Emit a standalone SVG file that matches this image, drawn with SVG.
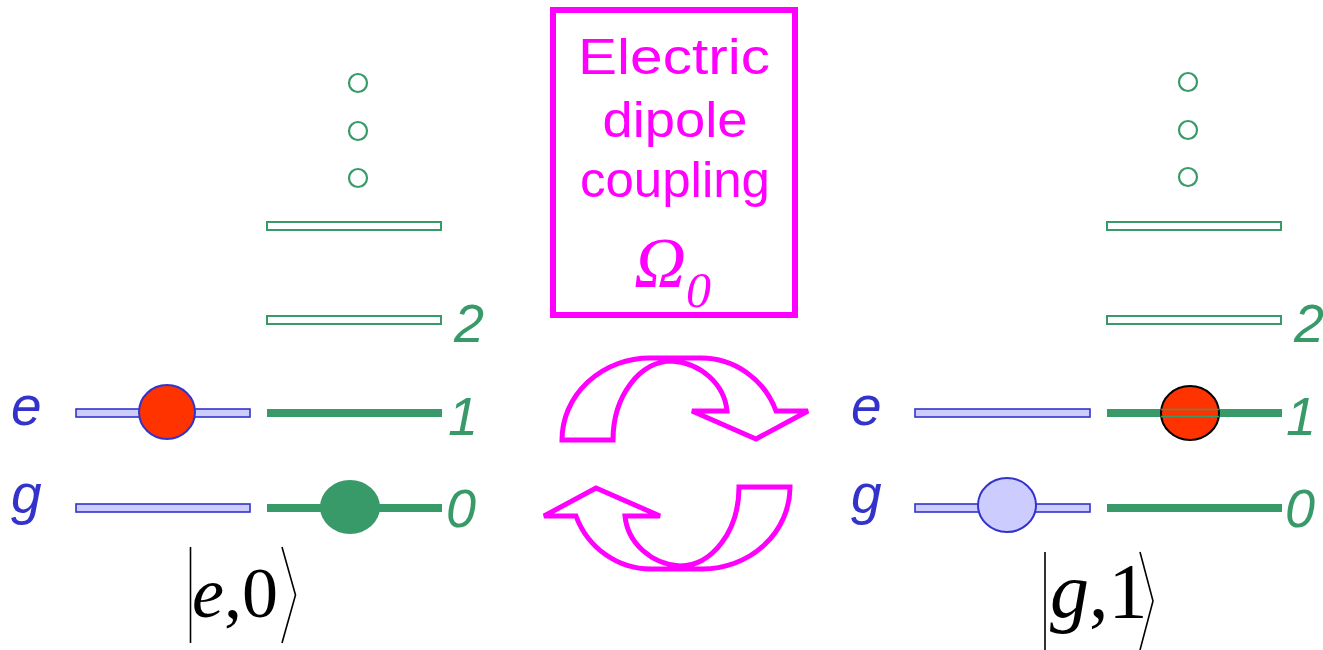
<svg xmlns="http://www.w3.org/2000/svg" width="1323" height="650" viewBox="0 0 1323 650">
<style>
.lvl{fill:#ffffff;stroke:#389a68;stroke-width:2}
.dot{fill:#ffffff;stroke:#389a68;stroke-width:2.2}
.ph{stroke:#389a68;stroke-width:8;fill:none}
.at{fill:#ccccff;stroke:#3333cc;stroke-width:1.6}
.num{font-family:"Liberation Sans",Arial,sans-serif;font-style:italic;font-size:54px;fill:#389a68}
.al{font-family:"Liberation Sans",Arial,sans-serif;font-style:italic;font-size:55px;fill:#3333cc}
.ket{font-family:"Liberation Serif","Times New Roman",serif;fill:#000000}
.kl{stroke:#000000;stroke-width:1.6;fill:none}
.box{font-family:"Liberation Sans",Arial,sans-serif;font-size:50px;fill:#ff00ff;text-anchor:middle}
.arr{fill:#ffffff;stroke:#ff00ff;stroke-width:5;stroke-linejoin:miter}
</style>
<defs>
<path id="carr" d="M 562 440 A 88 82 0 0 1 650 358 L 700 358 A 80 82 0 0 1 776 411 L 808 411 L 756 439 L 692 411 L 727 411 A 60 55 0 0 0 672 361 A 59 79 0 0 0 613 440 Z"/>
</defs>

<g id="left-photon-upper">
<circle class="dot" cx="358" cy="83" r="9"/>
<circle class="dot" cx="358" cy="131" r="9"/>
<circle class="dot" cx="358" cy="178" r="9"/>
<rect class="lvl" x="267" y="222" width="174" height="8"/>
</g>
<g id="left-photon-2">
<rect class="lvl" x="267" y="316" width="174" height="8"/>
<text class="num" x="454" y="342">2</text>
</g>
<g id="left-atom-e">
<text class="al" x="11" y="425">e</text>
<rect class="at" x="76" y="409" width="174" height="8"/>
<ellipse cx="167" cy="412" rx="28" ry="27" fill="#ff3300" stroke="#3333cc" stroke-width="2"/>
</g>
<g id="left-photon-1">
<line class="ph" x1="267" y1="413" x2="442" y2="413"/>
<text class="num" x="448" y="435">1</text>
</g>
<g id="left-atom-g">
<text class="al" x="11" y="513">g</text>
<rect class="at" x="76" y="504" width="174" height="8"/>
</g>
<g id="left-photon-0">
<line class="ph" x1="267" y1="508" x2="442" y2="508"/>
<ellipse cx="350" cy="507" rx="30" ry="27" fill="#389a68"/>
<text class="num" x="446" y="527">0</text>
</g>
<g id="left-ket">
<line class="kl" x1="190.5" y1="547" x2="190.5" y2="643"/>
<text class="ket" x="192" y="617" font-size="72"><tspan font-style="italic">e</tspan>,0</text>
<polyline class="kl" points="282,547 295.5,595 282,643"/>
</g>

<g id="coupling-box">
<rect x="553" y="10" width="242" height="305" fill="#ffffff" stroke="#ff00ff" stroke-width="6"/>
<text class="box" x="674" y="74" textLength="192" lengthAdjust="spacingAndGlyphs">Electric</text>
<text class="box" x="675" y="137" textLength="145" lengthAdjust="spacingAndGlyphs">dipole</text>
<text class="box" x="675" y="197" textLength="190" lengthAdjust="spacingAndGlyphs">coupling</text>
<text x="634" y="287" font-family="Liberation Serif,'Times New Roman',serif" font-style="italic" font-size="72" fill="#ff00ff">Ω<tspan font-size="50" dy="20">0</tspan></text>
</g>

<g id="connectors">
<use href="#carr" class="arr"/>
<use href="#carr" class="arr" transform="rotate(180 676 463.5)"/>
</g>

<g id="right-photon-upper">
<circle class="dot" cx="1188" cy="82" r="9"/>
<circle class="dot" cx="1188" cy="130" r="9"/>
<circle class="dot" cx="1188" cy="177" r="9"/>
<rect class="lvl" x="1107" y="222" width="174" height="8"/>
</g>
<g id="right-photon-2">
<rect class="lvl" x="1107" y="316" width="174" height="8"/>
<text class="num" x="1294" y="342">2</text>
</g>
<g id="right-atom-e">
<text class="al" x="851" y="425">e</text>
<rect class="at" x="915" y="409" width="175" height="8"/>
</g>
<g id="right-photon-1">
<line class="ph" x1="1107" y1="413" x2="1282" y2="413"/>
<ellipse cx="1190" cy="413" rx="29" ry="27" fill="#ff3300" stroke="#000000" stroke-width="2"/>
<line x1="1161" y1="409.5" x2="1219" y2="409.5" stroke="#389a68" stroke-width="1.5"/>
<line x1="1161" y1="416.5" x2="1219" y2="416.5" stroke="#389a68" stroke-width="1.5"/>
<text class="num" x="1286" y="435">1</text>
</g>
<g id="right-atom-g">
<text class="al" x="851" y="513">g</text>
<rect class="at" x="915" y="504" width="175" height="8"/>
<ellipse cx="1007" cy="505" rx="29" ry="27" fill="#ccccff" stroke="#3333cc" stroke-width="2"/>
</g>
<g id="right-photon-0">
<line class="ph" x1="1107" y1="508" x2="1282" y2="508"/>
<text class="num" x="1285" y="527">0</text>
</g>
<g id="right-ket">
<line class="kl" x1="1045" y1="552" x2="1045" y2="652"/>
<text class="ket" x="1050" y="617" font-size="78"><tspan font-style="italic">g</tspan>,1</text>
<polyline class="kl" points="1140,552 1153,601 1140,650"/>
</g>
</svg>
